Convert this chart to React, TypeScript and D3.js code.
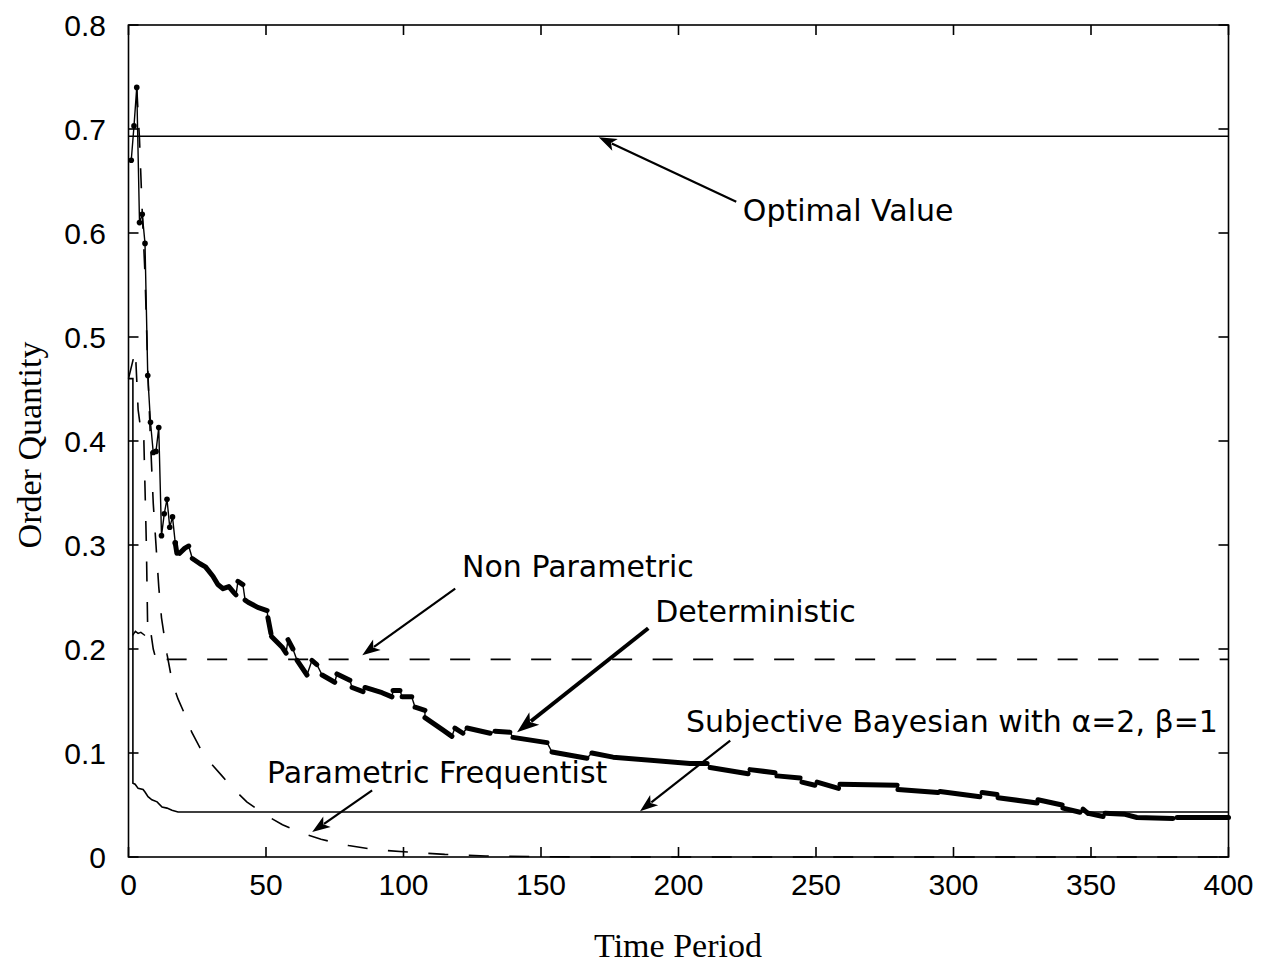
import React from "react";
import * as d3 from "d3";

const W = 1269;
const H = 965;

const xTicks = [0, 50, 100, 150, 200, 250, 300, 350, 400];
const yTicks = [0, 0.1, 0.2, 0.3, 0.4, 0.5, 0.6, 0.7, 0.8];
const yTickLabels = ["0", "0.1", "0.2", "0.3", "0.4", "0.5", "0.6", "0.7", "0.8"];

const optimalValue = 0.693;
const nonParamLevel = 0.19;

// Non Parametric (dashed) early values, then flat
const nonParamPts: [number, number][] = [
  [0, 0.46], [2.5, 0.487], [3.5, 0.43], [4.5, 0.41], [5.5, 0.41], [6.5, 0.3],
  [7, 0.215], [8, 0.218], [9, 0.2], [10, 0.19], [12, 0.195], [13, 0.19], [400, nonParamLevel],
];

// Parametric Frequentist (dashed)
const freqPts: [number, number][] = [
  [3, 0.74], [4, 0.69], [5, 0.62], [6, 0.56], [7, 0.47], [8, 0.4], [9, 0.34], [10, 0.3],
  [11, 0.26], [12, 0.23], [14, 0.195], [16, 0.167], [18, 0.152], [20, 0.14], [23, 0.12],
  [26, 0.105], [30, 0.09], [34, 0.078], [38, 0.066], [43, 0.053], [50, 0.04], [56, 0.031],
  [62, 0.024], [70, 0.017], [80, 0.011], [90, 0.007], [100, 0.005], [115, 0.0025],
  [130, 0.001], [150, 0.0003], [170, 0], [400, 0],
];

// Subjective Bayesian (thin solid)
const bayesPts: [number, number][] = [
  [0, 0.46], [1.6, 0.46], [1.6, 0.071], [2.4, 0.07], [3.5, 0.066], [5.3, 0.065], [6, 0.0625],
  [7.1, 0.058], [8.5, 0.055], [10.4, 0.053], [12.2, 0.048], [14, 0.047], [15.8, 0.045],
  [18, 0.0433], [400, 0.0433],
];

// small early wiggle near 0.215
const earlyWiggle: [number, number][] = [[1.5, 0.213], [2.5, 0.217], [3.5, 0.215], [4.5, 0.216], [6, 0.213]];

// Deterministic: early individual points
const detEarly: [number, number][] = [
  [1, 0.67], [2, 0.703], [3, 0.74], [4, 0.61], [5, 0.618], [6, 0.59], [7, 0.463], [8, 0.418],
  [9, 0.389], [10, 0.39], [11, 0.413], [12, 0.309], [13, 0.33], [14, 0.344], [15, 0.317],
  [16, 0.327], [17, 0.302],
];

// Deterministic: later runs (thick)
const detRuns: [number, number][][] = [
  [[17, 0.302], [17.6, 0.292]],
  [[18.6, 0.292], [20.5, 0.297], [21.9, 0.299]],
  [[23.2, 0.287], [26, 0.282], [28, 0.279], [30.7, 0.27], [32.5, 0.262], [34.4, 0.258], [36.5, 0.26], [38.4, 0.254], [39.1, 0.252]],
  [[39.8, 0.265], [41.6, 0.262]],
  [[42.4, 0.247], [43.5, 0.245], [47, 0.24], [50.4, 0.237]],
  [[50.7, 0.23], [51.8, 0.215]],
  [[52, 0.212], [55.8, 0.202], [57.3, 0.196]],
  [[58, 0.209], [59.8, 0.2]],
  [[61.3, 0.189], [64.9, 0.175]],
  [[66.7, 0.189], [68.5, 0.185]],
  [[70.4, 0.175], [75, 0.168]],
  [[75.8, 0.176], [80.5, 0.17]],
  [[81.3, 0.163], [85.3, 0.159]],
  [[86, 0.163], [92.2, 0.158], [95.8, 0.154]],
  [[96.2, 0.16], [98.7, 0.16]],
  [[99.5, 0.154], [103, 0.154]],
  [[104.2, 0.144], [107.8, 0.141]],
  [[107.8, 0.134], [114.4, 0.122], [117.6, 0.116]],
  [[118.7, 0.124], [121.6, 0.119]],
  [[123.1, 0.124], [131.5, 0.119]],
  [[133.3, 0.121], [138.7, 0.12]],
  [[139.8, 0.115], [152.2, 0.11]],
  [[154, 0.101], [166.7, 0.095]],
  [[168.5, 0.1], [176.2, 0.096], [204.2, 0.09], [210.4, 0.09]],
  [[211.5, 0.086], [225.3, 0.08]],
  [[226, 0.084], [235.1, 0.081]],
  [[235.8, 0.078], [244.2, 0.076]],
  [[244.9, 0.072], [249.6, 0.069]],
  [[250.4, 0.072], [258.2, 0.066]],
  [[258.7, 0.07], [279.5, 0.069]],
  [[279.8, 0.065], [294.4, 0.062]],
  [[295.1, 0.063], [309.6, 0.058]],
  [[310.4, 0.062], [315.8, 0.06]],
  [[316.2, 0.057], [330.4, 0.052]],
  [[330.7, 0.055], [339.5, 0.05]],
  [[339.8, 0.047], [346, 0.043]],
  [[347.1, 0.046], [348.9, 0.042]],
  [[349, 0.042], [354.4, 0.039]],
  [[355.1, 0.042], [362.4, 0.041], [366.7, 0.038], [379.8, 0.037]],
  [[381.3, 0.038], [400, 0.038]],
];

// annotations: label, text baseline anchor (data coords), arrow from/to (data coords)
const annLabels = ["Optimal Value", "Non Parametric", "Deterministic", "Subjective Bayesian with α=2, β=1", "Parametric Frequentist"];
const annTextPos: [number, number][] = [[223.4, 0.6115], [121.3, 0.2692], [191.5, 0.226], [202.7, 0.1202], [50.4, 0.0712]];
const annFrom: [number, number][] = [[221, 0.63], [118.8, 0.258], [189, 0.22], [218.8, 0.112], [88.6, 0.064]];
const annTo: [number, number][] = [[171, 0.692], [85, 0.194], [141.3, 0.12], [186, 0.044], [66.8, 0.024]];
const annThick = [false, false, true, false, false];

export default function App() {
  const x = d3.scaleLinear().domain([0, 400]).range([128.5, 1228.5]);
  const y = d3.scaleLinear().domain([0, 0.8]).range([857, 25]);
  const line = d3.line<[number, number]>().x((d) => x(d[0])).y((d) => y(d[1]));

  // thin connectors between deterministic runs
  const connectors: [number, number][][] = [];
  for (let i = 1; i < detRuns.length; i++) {
    const a = detRuns[i - 1][detRuns[i - 1].length - 1];
    const b = detRuns[i][0];
    connectors.push([a, b]);
  }

  const left = x(0), right = x(400), top = y(0.8), bottom = y(0);
  const tickLen = 10;

  const arrow = (from: [number, number], to: [number, number], thick: boolean, key: number) => {
    const x1 = x(from[0]), y1 = y(from[1]), x2 = x(to[0]), y2 = y(to[1]);
    const ang = Math.atan2(y2 - y1, x2 - x1);
    const hl = thick ? 22 : 18;
    const hw = thick ? 8 : 6.5;
    const bx = x2 - hl * Math.cos(ang), by = y2 - hl * Math.sin(ang);
    const px = -Math.sin(ang), py = Math.cos(ang);
    const pts = `${x2},${y2} ${bx + hw * px},${by + hw * py} ${bx + 0.25 * hl * Math.cos(ang)},${by + 0.25 * hl * Math.sin(ang)} ${bx - hw * px},${by - hw * py}`;
    return (
      <g key={key}>
        <line x1={x1} y1={y1} x2={bx + 0.2 * hl * Math.cos(ang)} y2={by + 0.2 * hl * Math.sin(ang)} stroke="#000" strokeWidth={thick ? 4 : 2.2} />
        <polygon points={pts} fill="#000" />
      </g>
    );
  };

  return (
    <svg width={W} height={H} style={{ position: "absolute", left: 0, top: 0, background: "#fff" }}>
      <rect x={0} y={0} width={W} height={H} fill="#fff" />
      {/* optimal */}
      <line x1={left} x2={right} y1={y(optimalValue)} y2={y(optimalValue)} stroke="#000" strokeWidth={1.6} />
      {/* non parametric */}
      <path d={line(nonParamPts) || ""} fill="none" stroke="#000" strokeWidth={1.6} strokeDasharray="20,20.5" />
      {/* frequentist */}
      <path d={line(freqPts) || ""} fill="none" stroke="#000" strokeWidth={1.6} strokeDasharray="20,20.5" />
      {/* bayesian */}
      <path d={line(bayesPts) || ""} fill="none" stroke="#000" strokeWidth={1.6} />
      <path d={line(earlyWiggle) || ""} fill="none" stroke="#000" strokeWidth={1.4} />
      {/* deterministic */}
      <path d={line(detEarly) || ""} fill="none" stroke="#000" strokeWidth={1.4} />
      {detEarly.map((p, i) => (
        <circle key={"de" + i} cx={x(p[0])} cy={y(p[1])} r={2.8} fill="#000" />
      ))}
      {connectors.map((c, i) => (
        <path key={"dc" + i} d={line(c) || ""} fill="none" stroke="#000" strokeWidth={1.4} />
      ))}
      {detRuns.map((r, i) => (
        <path key={"dr" + i} d={line(r) || ""} fill="none" stroke="#000" strokeWidth={5} strokeLinecap="round" strokeLinejoin="round" />
      ))}

      {/* frame */}
      <rect x={left} y={top} width={right - left} height={bottom - top} fill="none" stroke="#000" strokeWidth={1.6} />
      {xTicks.map((t, i) => (
        <g key={"xt" + i}>
          <line x1={x(t)} x2={x(t)} y1={bottom} y2={bottom - tickLen} stroke="#000" strokeWidth={1.6} />
          <line x1={x(t)} x2={x(t)} y1={top} y2={top + tickLen} stroke="#000" strokeWidth={1.6} />
          <text x={x(t)} y={895} textAnchor="middle" fontFamily="Liberation Sans, Arial, sans-serif" fontSize={30}>{String(t)}</text>
        </g>
      ))}
      {yTicks.map((t, i) => (
        <g key={"yt" + i}>
          <line x1={left} x2={left + tickLen} y1={y(t)} y2={y(t)} stroke="#000" strokeWidth={1.6} />
          <line x1={right} x2={right - tickLen} y1={y(t)} y2={y(t)} stroke="#000" strokeWidth={1.6} />
          <text x={106} y={y(t) + 10.5} textAnchor="end" fontFamily="Liberation Sans, Arial, sans-serif" fontSize={30}>{yTickLabels[i]}</text>
        </g>
      ))}
      <text x={678} y={957} textAnchor="middle" fontFamily="Liberation Serif, 'Times New Roman', serif" fontSize={34}>Time Period</text>
      <text transform={`translate(41,445) rotate(-90)`} textAnchor="middle" fontFamily="Liberation Serif, 'Times New Roman', serif" fontSize={34}>Order Quantity</text>

      {/* annotations */}
      {annLabels.map((s, i) => (
        <text key={"al" + i} x={x(annTextPos[i][0])} y={y(annTextPos[i][1])} fontFamily="DejaVu Sans, sans-serif" fontSize={30}>{s}</text>
      ))}
      {annLabels.map((s, i) => arrow(annFrom[i], annTo[i], annThick[i], i))}
    </svg>
  );
}
